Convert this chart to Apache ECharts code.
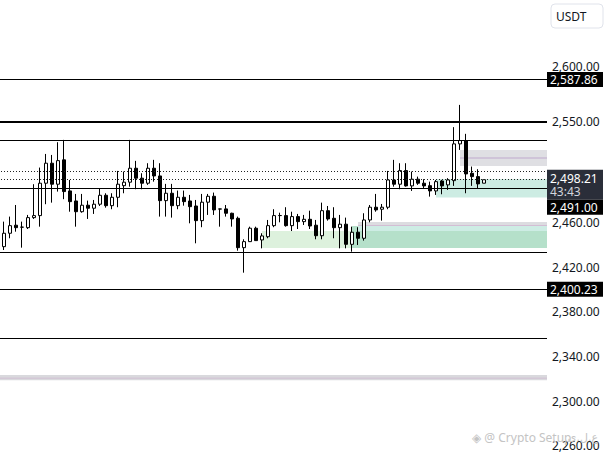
<!DOCTYPE html>
<html><head><meta charset="utf-8">
<script src="https://cdn.jsdelivr.net/npm/echarts@6/dist/echarts.min.js"></script>
<style>html,body{margin:0;padding:0;background:#fff}#c{width:607px;height:455px}</style>
</head><body><div id="c"></div>
<script>
// candle index -1 (partially visible) .. 80
const opens = [2433.5,2438.3,2450.3,2457.5,2455.7,2455.3,2464.3,2466.1,2495.1,2513.0,2494.2,2516.0,2488.2,2479.2,2469.6,2475.4,2472.7,2476.3,2484.3,2475.0,2482.5,2492.9,2496.0,2508.5,2499.6,2495.1,2508.5,2501.6,2479.5,2486.1,2475.0,2482.5,2479.2,2474.7,2461.6,2478.1,2483.4,2472.1,2472.1,2468.2,2463.7,2437.4,2442.8,2454.8,2444.3,2447.2,2457.1,2466.1,2466.1,2457.1,2465.2,2460.7,2462.8,2457.5,2448.1,2470.5,2463.7,2455.3,2458.4,2440.4,2451.2,2445.8,2462.2,2473.6,2471.8,2473.6,2498.0,2494.2,2506.4,2492.7,2498.7,2495.1,2492.9,2488.2,2497.1,2493.6,2497.4,2530.3,2533.3,2504.0,2501.0,2495.1];
const closes = [2439.8,2450.3,2457.1,2455.3,2455.8,2464.3,2466.1,2495.1,2513.0,2494.2,2515.3,2487.6,2478.6,2469.6,2475.4,2472.7,2476.3,2484.3,2475.0,2482.5,2494.2,2496.0,2508.5,2499.6,2495.1,2508.5,2501.6,2479.5,2486.1,2475.0,2482.5,2478.6,2474.1,2461.6,2478.1,2483.4,2471.2,2471.9,2468.2,2463.1,2437.4,2442.8,2454.8,2443.7,2447.9,2457.1,2466.1,2466.2,2457.1,2465.2,2460.7,2462.8,2456.8,2448.1,2470.5,2463.1,2455.3,2458.4,2440.4,2451.2,2445.8,2462.2,2473.6,2471.2,2473.6,2498.0,2494.2,2506.4,2492.7,2498.7,2495.1,2492.7,2488.2,2496.5,2492.7,2498.0,2530.3,2533.3,2503.4,2501.0,2494.5,2498.21];
const lows = [2430.8,2435.3,2445.8,2451.7,2437.4,2454.1,2463.1,2456.2,2476.3,2477.7,2487.6,2480.8,2469.6,2456.2,2468.7,2463.1,2467.6,2474.7,2473.2,2471.8,2473.6,2486.1,2492.0,2489.7,2489.7,2493.6,2496.5,2465.2,2465.2,2464.3,2471.8,2475.0,2459.2,2441.3,2455.7,2466.7,2466.7,2456.2,2465.2,2456.2,2434.7,2415.0,2442.5,2443.5,2436.8,2445.8,2455.7,2460.1,2456.2,2452.3,2454.1,2457.7,2454.1,2444.9,2444.9,2461.6,2445.8,2436.8,2436.8,2433.8,2439.8,2443.7,2460.1,2469.6,2461.6,2471.8,2492.0,2489.7,2492.0,2488.2,2493.6,2490.6,2483.1,2484.6,2485.2,2489.1,2492.7,2524.9,2486.1,2492.7,2490.6,2495.1];
const highs = [2441.6,2460.7,2465.2,2475.6,2460.7,2466.7,2494.2,2509.1,2521.3,2520.4,2531.8,2533.9,2498.0,2485.5,2485.5,2479.5,2480.1,2490.6,2486.1,2486.1,2506.1,2505.5,2533.9,2515.1,2504.0,2513.0,2516.0,2513.0,2494.5,2494.5,2488.5,2488.5,2484.6,2480.1,2485.5,2485.5,2486.7,2472.3,2475.6,2468.7,2465.2,2444.9,2456.2,2456.2,2450.3,2462.2,2471.8,2468.7,2473.6,2469.6,2467.6,2466.7,2470.5,2462.2,2477.7,2474.7,2473.6,2466.7,2464.3,2456.2,2455.7,2468.2,2475.6,2485.5,2476.5,2506.1,2516.0,2513.0,2513.0,2505.5,2501.0,2498.7,2496.5,2498.0,2498.0,2499.6,2545.3,2565.2,2539.3,2510.0,2507.6,2498.21];
const slotCount = 92;
const categories = Array.from({length: slotCount}, (_, i) => String(i));
const axisTickLabels = [2260,2300,2340,2380,2420,2460,2550,2600];
const solidLevels = [2587.86, 2533.9, 2491.00, 2433.3, 2400.23, 2356.2];
const thickLevels = [2550];
const dottedLevels = [2506.1, 2498.21];
const tagLevels = [2587.86, 2491.00, 2400.23];
const currentPrice = 2498.21;
const countdown = '43:43';
// zones: [startSlot or null, top, bottom, endSlot or null, color]
const zones = [
  [null, 2323.3, 2318.8, null, '#d9d9dd'],
  [null, 2321.0, 2320.2, null, '#cdb7d0'],
  [44, 2452.3, 2437.1, 59, '#ddf1dd'],
  [59, 2456.8, 2437.1, null, '#b5e0ca'],
  [60, 2456.8, 2452.3, null, '#cdece4'],
  [60, 2460.4, 2456.8, null, '#dcdce0'],
  [60, 2457.6, 2456.8, null, '#d3bdd4'],
  [73, 2498.9, 2482.4, null, '#cdece3'],
  [77, 2524.9, 2510.6, null, '#dfdfe3'],
  [77, 2518.2, 2517.3, null, '#c0aacd']
];

const fmt = v => v.toLocaleString('en-US', {minimumFractionDigits: 2, maximumFractionDigits: 2});
const candleData = opens.map((o, i) => [o, closes[i], lows[i], highs[i]]);

const markLineData = [];
solidLevels.forEach(v => markLineData.push({yAxis: v, lineStyle: {color: '#000', width: 1, type: 'solid'}}));
thickLevels.forEach(v => markLineData.push({yAxis: v, lineStyle: {color: '#000', width: 2, type: 'solid'}}));
dottedLevels.forEach(v => markLineData.push({yAxis: v, lineStyle: {color: '#222', width: 1, type: [1, 2]}}));

const markAreaData = zones.map(z => {
  const a = {yAxis: z[1], itemStyle: {color: z[4]}};
  if (z[0] !== null) a.xAxis = z[0];
  const b = {yAxis: z[2]};
  if (z[3] !== null) b.xAxis = z[3];
  return [a, b];
});

const chart = echarts.init(document.getElementById('c'), null, {renderer: 'svg'});
chart.setOption({
  animation: false,
  backgroundColor: '#fff',
  grid: {left: -5, right: 60, top: -1, height: 458, containLabel: false, outerBoundsMode: 'none'},
  xAxis: {type: 'category', data: categories, show: false, boundaryGap: true},
  yAxis: {
    type: 'value', position: 'right', min: 2250, max: 2660, interval: 10, scale: true,
    axisLine: {show: false}, axisTick: {show: false}, splitLine: {show: false},
    axisLabel: {
      margin: 5, color: '#131722', fontSize: 12, fontFamily: 'Noto Sans',
      formatter: v => axisTickLabels.includes(Math.round(v)) ? fmt(Math.round(v)) : ''
    }
  },
  series: [{
    type: 'candlestick',
    data: candleData,
    barWidth: 4,
    itemStyle: {color: '#ffffff', color0: '#000000', borderColor: '#000000', borderColor0: '#000000', borderWidth: 1},
    markLine: {silent: true, symbol: ['none', 'none'], label: {show: false}, animation: false, data: markLineData},
    markArea: {silent: true, label: {show: false}, animation: false, data: markAreaData}
  }]
});

const yp = v => chart.convertToPixel({yAxisIndex: 0}, v);
const font = '12px "Noto Sans"';
const gx = 547, gw = 56;
const graphics = [];
// USDT box
graphics.push({type: 'rect', z: 100, shape: {x: 551, y: 4, width: 52, height: 24, r: 4}, style: {fill: '#fff', stroke: '#e0e3eb', lineWidth: 1}});
graphics.push({type: 'text', z: 101, style: {text: 'USDT', x: 556, y: 16, fill: '#131722', font: font, textVerticalAlign: 'middle'}});
// simple level tags
tagLevels.forEach(v => {
  let cy = yp(v);
  if (v === 2491.00) cy = yp(currentPrice) + 27.5;
  graphics.push({type: 'rect', z: 100, shape: {x: gx, y: cy - 7.5, width: gw, height: 15}, style: {fill: '#000'}});
  graphics.push({type: 'text', z: 101, style: {text: fmt(v), x: gx + 3, y: cy, fill: '#fff', font: font, textVerticalAlign: 'middle'}});
});
// current price tag with countdown
const cp = yp(currentPrice);
graphics.push({type: 'rect', z: 99, shape: {x: gx, y: cp - 10, width: gw, height: 30}, style: {fill: '#2a2e39'}});
graphics.push({type: 'text', z: 101, style: {text: fmt(currentPrice), x: gx + 3, y: cp - 1.5, fill: '#fff', font: font, textVerticalAlign: 'middle'}});
graphics.push({type: 'text', z: 101, style: {text: countdown, x: gx + 3, y: cp + 11.5, fill: '#d1d4dc', font: font, textVerticalAlign: 'middle'}});
// watermark
graphics.push({type: 'text', z: 90, style: {text: '◈ @ Crypto Setup', x: 472, y: 437, fill: '#c4c4c4', font: '12px "Noto Sans", "DejaVu Sans"', textVerticalAlign: 'middle'}});
graphics.push({type: 'text', z: 90, style: {text: 'ع.ل.ی', x: 598, y: 437, fill: '#c4c4c4', font: '11px "DejaVu Sans"', textAlign: 'right', textVerticalAlign: 'middle'}});
chart.setOption({graphic: graphics});
</script>
</body></html>
